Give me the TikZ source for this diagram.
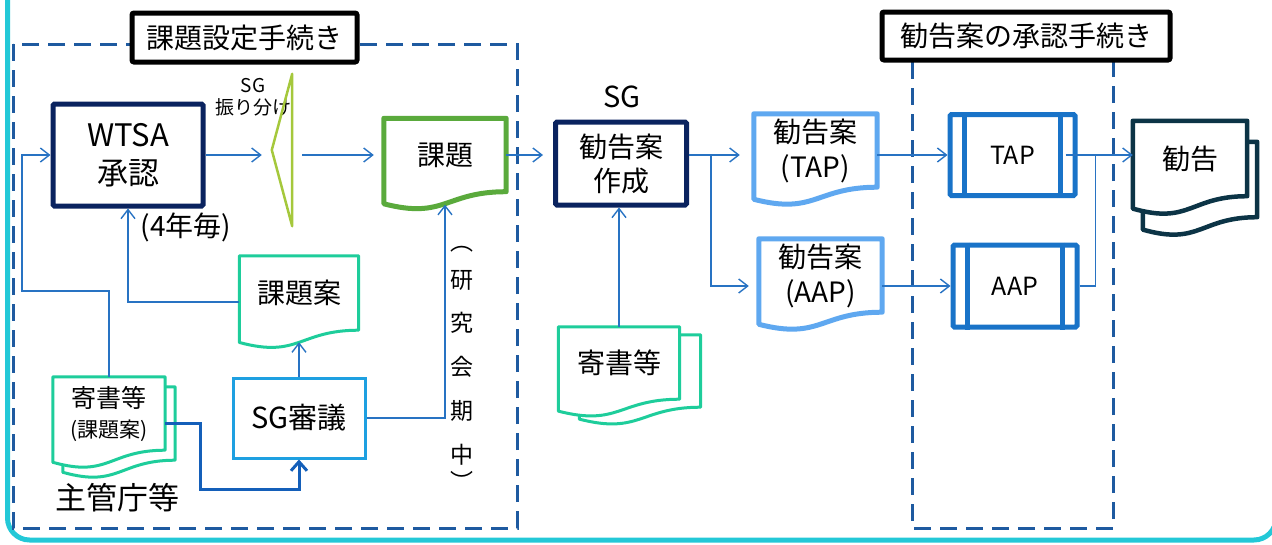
\documentclass[tikz,border=0pt]{standalone}
\usepackage{fontspec}
\setmainfont{Noto Sans CJK JP}
\usetikzlibrary{arrows.meta,calc,backgrounds}

\definecolor{framecyan}{RGB}{35,200,215}
\definecolor{dashblue}{RGB}{30,90,160}
\definecolor{navy}{RGB}{10,35,95}
\definecolor{leafgreen}{RGB}{90,170,60}
\definecolor{limegreen}{RGB}{165,200,60}
\definecolor{mint}{RGB}{30,205,155}
\definecolor{skyblue}{RGB}{30,160,225}
\definecolor{paleblue}{RGB}{95,168,240}
\definecolor{procblue}{RGB}{25,115,200}
\definecolor{deepteal}{RGB}{12,52,70}
\definecolor{linkblue}{RGB}{40,115,195}
\definecolor{boldblue}{RGB}{20,95,185}

% document outline below a node: name, x offset, y offset
\newcommand{\docline}[4][]{%
  \path[#1] let \p1=(#2.north west), \p2=(#2.south east),
    \n1={(\y1-\y2)/0.802}, \n2={(\x1+\x2)/2+#3},
    \n3={\x1+#3}, \n4={\x2+#3}, \n5={\y1-#4}, \n6={\y2-#4} in
    (\n3,\n5) -- (\n4,\n5) -- (\n4,\n6)
    .. controls (\n2,\n6) and (\n2,{\n5-1.1075*\n1}) .. (\n3,{\n5-0.934*\n1}) -- cycle;}

\begin{document}
\begin{tikzpicture}[x=1pt, y=-1pt,
    conn/.style={draw=linkblue, line width=1.4pt, -{Straight Barb[length=9pt,width=14pt]}},
    boldconn/.style={draw=boldblue, line width=3pt, -{Straight Barb[length=9pt,width=16pt]}},
    linkline/.style={draw=linkblue, line width=1.4pt},
    dashframe/.style={draw=dashblue, line width=3pt, dash pattern=on 17pt off 9pt},
    titlebox/.style={draw=black, line width=5pt, fill=white, rounded corners=2pt, font=\fontsize{28}{34}\selectfont},
    navybox/.style={draw=navy, line width=5pt, rounded corners=1.5pt, align=center},
    docbox/.style={inner sep=0pt, align=center, font=\fontsize{28}{35}\selectfont},
    procbox/.style={draw=procblue, line width=5pt, rounded corners=1.5pt, font=\fontsize{25}{30}\selectfont},
    procline/.style={draw=procblue, line width=5pt},
    label/.style={inner sep=0pt, align=center}]
    \useasboundingbox (0,0) rectangle (1272,544);

    % Nodes
    \node[titlebox, minimum width=225pt, minimum height=49pt] (stage1) at (244.5,37.5) {課題設定手続き};
    \node[titlebox, minimum width=288pt, minimum height=48pt] (stage2) at (1026,36) {勧告案の承認手続き};

    \node[navybox, minimum width=150pt, minimum height=102pt, font=\fontsize{31}{38}\selectfont] (wtsa) at (128,155) {WTSA\\承認};
    \node[label, font=\fontsize{28}{30}\selectfont] (cycle) at (186,227) {(4年毎)};
    \node[inner sep=0pt, minimum width=20pt, minimum height=152pt] (sg) at (282,150) {};
    \node[label, font=\fontsize{19}{22}\selectfont] (sglabel) at (253,97) {SG\\振り分け};
    \node[docbox, minimum width=122pt, minimum height=73pt] (kadai) at (445,155) {課題};
    \node[docbox, minimum width=119pt, minimum height=74pt] (kadaian) at (299,293) {課題案};
    \node[draw=skyblue, line width=3pt, minimum width=132pt, minimum height=80pt, font=\fontsize{29}{34}\selectfont] (shingi) at (299,418) {SG審議};
    \node[docbox, minimum width=112pt, minimum height=73pt, font=\fontsize{25}{30}\selectfont] (kisho1) at (109,413.5) {寄書等\\{\fontsize{21}{26}\selectfont (課題案)}};
    \node[label, font=\fontsize{31}{36}\selectfont] (shukan) at (117,498) {主管庁等};
    \node[label, font=\fontsize{23}{43.75}\selectfont] (kikan) at (462,367.5) {研\\究\\会\\期\\中};
    \node[label, font=\fontsize{23}{28}\selectfont] (kikanl) at (462,249) {︵};
    \node[label, font=\fontsize{23}{28}\selectfont] (kikanr) at (462,481) {︶};

    \node[label, font=\fontsize{29}{34}\selectfont] (sgname) at (622,97) {SG};
    \node[navybox, minimum width=131pt, minimum height=83pt, font=\fontsize{28}{34}\selectfont] (sakusei) at (621,163.5) {勧告案\\作成};
    \node[docbox, minimum width=121pt, minimum height=72pt] (kisho2) at (619,363) {寄書等};
    \node[docbox, minimum width=123pt, minimum height=73pt] (tapdoc) at (815.5,150.5) {勧告案\\(TAP)};
    \node[docbox, minimum width=123pt, minimum height=73pt] (aapdoc) at (820.5,275.5) {勧告案\\(AAP)};
    \node[procbox, minimum width=125pt, minimum height=81pt] (tapbox) at (1012.5,155) {TAP};
    \node[procbox, minimum width=124pt, minimum height=82pt] (aapbox) at (1015,286) {AAP};
    \node[docbox, minimum width=114pt, minimum height=75pt] (kankoku) at (1190,158.5) {勧告};

    % Frames and documents
    \begin{scope}[on background layer]
    \draw[framecyan, line width=5pt, rounded corners=22pt] (7.5,-40) rectangle (1276,540);
    \draw[dashframe] (13,44) rectangle (517,528);
    \draw[dashframe] (912,36) rectangle (1113,528);
    \docline[draw=leafgreen, line width=5pt, line join=round, fill=white]{kadai}{0pt}{0pt};
    \docline[draw=mint, line width=3pt, line join=round, fill=white]{kadaian}{0pt}{0pt};
    \docline[draw=mint, line width=3pt, line join=round, fill=white]{kisho1}{10pt}{10pt};
    \docline[draw=mint, line width=3pt, line join=round, fill=white]{kisho1}{0pt}{0pt};
    \docline[draw=mint, line width=3pt, line join=round, fill=white]{kisho2}{21pt}{8pt};
    \docline[draw=mint, line width=3pt, line join=round, fill=white]{kisho2}{0pt}{0pt};
    \docline[draw=paleblue, line width=5pt, line join=round, fill=white]{tapdoc}{0pt}{0pt};
    \docline[draw=paleblue, line width=5pt, line join=round, fill=white]{aapdoc}{0pt}{0pt};
    \docline[draw=deepteal, line width=4.5pt, line join=round, fill=white]{kankoku}{10pt}{21pt};
    \docline[draw=deepteal, line width=4.5pt, line join=round, fill=white]{kankoku}{0pt}{0pt};
    \end{scope}

    \draw[limegreen, line width=2.5pt, line join=round] (sg.north east) -- (sg.west) -- (sg.south east) -- cycle;
    \foreach \b in {tapbox,aapbox} {
        \draw[procline] ($(\b.north west)+(17,0)$) -- ($(\b.south west)+(17,0)$);
        \draw[procline] ($(\b.north east)+(-17,0)$) -- ($(\b.south east)+(-17,0)$);
    }

    % Arrows
    \draw[conn] (kisho1.north) -- ++(0,-86) -- ++(-87,0) |- (wtsa.west);
    \draw[conn] ($(kadaian.west)+(0,9)$) -| (wtsa.south);
    \draw[conn] (shingi.north) -- ($(kadaian.south)+(0,12)$);
    \draw[conn] (shingi.east) -| ($(kadai.south)+(0,13)$);
    \draw[boldconn] ($(kisho1.east)+(0,10)$) -- ++(35,0) -- ++(0,66) -| (shingi.south);
    \draw[conn] (wtsa.east) -- ($(wtsa.east -| sg.west)+(-10,0)$);
    \draw[conn] ($(wtsa.east -| sg.east)+(10,0)$) -- ($(kadai.west)+(-10,0)$);
    \draw[conn] (kadai.east) -- ($(kadai.east -| sakusei.west)+(-10,0)$);
    \draw[conn] (kisho2.north) -- (kisho2.north |- sakusei.south);
    \draw[conn] (sakusei.east |- kadai.east) -- ($(tapdoc.west |- kadai.east)+(-14,0)$);
    \draw[conn] ($(sakusei.east |- kadai.east)+(22,0)$) |- ($(aapdoc.west |- aapbox.west)+(-10,0)$);
    \draw[conn] (tapdoc.east |- tapbox.west) -- (tapbox.west);
    \draw[conn] (aapdoc.east |- aapbox.west) -- (aapbox.west);
    \draw[conn] ($(tapbox.east)+(-12,0)$) -- (kankoku.west |- tapbox.east);
    \draw[linkline] (aapbox.east) -- ++(16,0) |- (tapbox.east);

\end{tikzpicture}
\end{document}
